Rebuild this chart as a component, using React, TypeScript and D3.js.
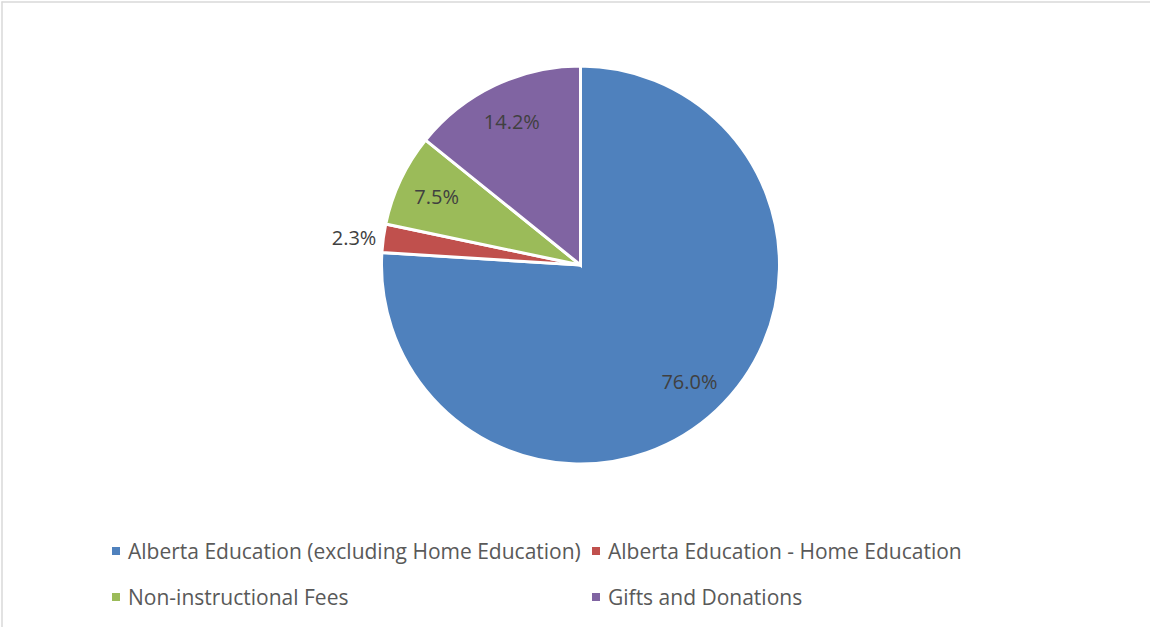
import React from "react";
import * as d3 from "d3";

const categories = [
  "Alberta Education (excluding Home Education)",
  "Alberta Education - Home Education",
  "Non-instructional Fees",
  "Gifts and Donations",
];
const values = [76.0, 2.3, 7.5, 14.2];
const labels = ["76.0%", "2.3%", "7.5%", "14.2%"];
const colors = ["#4F81BD", "#C0504D", "#9BBB59", "#8064A2"];
const outsideLabel = [false, true, false, false];

const W = 1150;
const H = 627;
const cx = 580.5;
const cy = 265;
const R = 199;
const FONT = "'Open Sans', Lato, sans-serif";

export default function App() {
  const pie = d3.pie<number>().sort(null).value((d) => d);
  const arcs = pie(values);
  const arc = d3.arc<d3.PieArcDatum<number>>().innerRadius(0).outerRadius(R);
  const labelArc = d3.arc<d3.PieArcDatum<number>>().innerRadius(R * 0.8).outerRadius(R * 0.8);

  const legendPos = [
    { x: 112, y: 551 },
    { x: 592, y: 551 },
    { x: 112, y: 597 },
    { x: 592, y: 597 },
  ];

  return (
    <svg
      width={W}
      height={H}
      style={{ position: "absolute", left: 0, top: 0, background: "#fff" }}
      fontFamily={FONT}
    >
      <line x1={1.5} y1={2} x2={W} y2={2} stroke="#d9d9d9" strokeWidth={1.5} />
      <line x1={2} y1={1.5} x2={2} y2={H} stroke="#d9d9d9" strokeWidth={1.5} />
      <g transform={`translate(${cx},${cy})`}>
        {arcs.map((a, i) => (
          <path key={i} d={arc(a) || ""} fill={colors[i]} stroke="#fff" strokeWidth={3} strokeLinejoin="miter" />
        ))}
        {arcs.map((a, i) => {
          if (outsideLabel[i]) {
            const mid = (a.startAngle + a.endAngle) / 2;
            const rr = R + 7;
            const x = rr * Math.sin(mid);
            const y = -rr * Math.cos(mid);
            return (
              <text key={i} x={x} y={y} textAnchor="end" dominantBaseline="central" fontSize={20} fill="#404040">
                {labels[i]}
              </text>
            );
          }
          const [x, y] = labelArc.centroid(a);
          return (
            <text key={i} x={x} y={y} textAnchor="middle" dominantBaseline="central" fontSize={20} fill="#404040">
              {labels[i]}
            </text>
          );
        })}
      </g>
      {categories.map((c, i) => (
        <g key={c} transform={`translate(${legendPos[i].x},${legendPos[i].y})`}>
          <rect x={0} y={-4} width={8} height={8} fill={colors[i]} />
          <text x={16} y={0} dominantBaseline="central" fontSize={21} fill="#595959">
            {c}
          </text>
        </g>
      ))}
    </svg>
  );
}
